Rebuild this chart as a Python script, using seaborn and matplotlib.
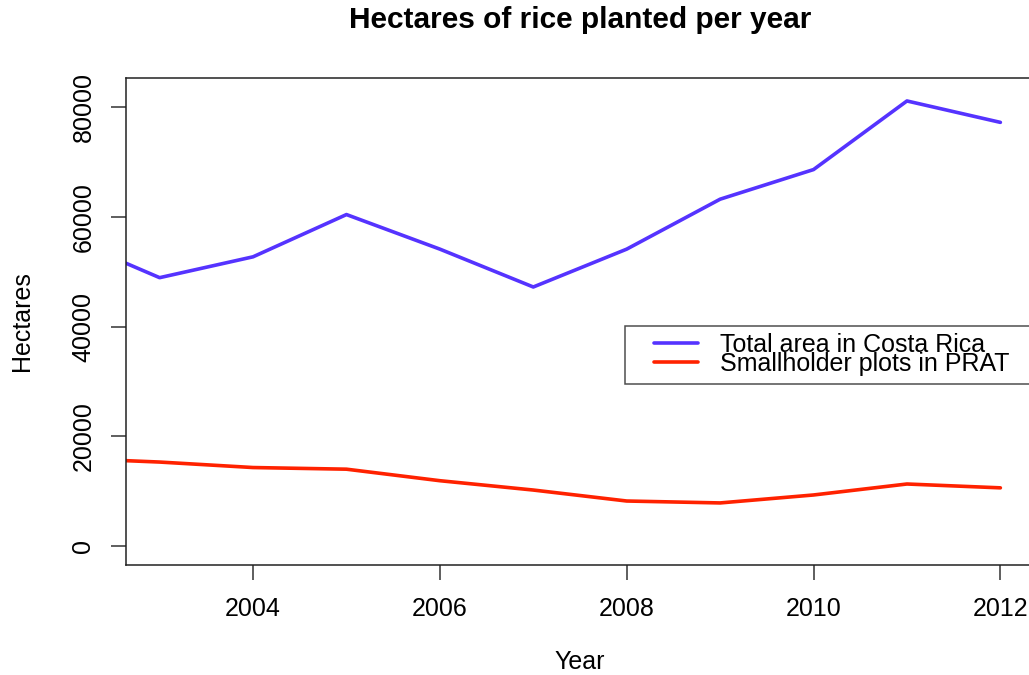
import numpy as np
import pandas as pd
import matplotlib
matplotlib.use("Agg")
import matplotlib.pyplot as plt
from matplotlib.legend_handler import HandlerLine2D
import seaborn as sns

years = [2002, 2003, 2004, 2005, 2006, 2007, 2008, 2009, 2010, 2011, 2012]
total_area = [56200, 48900, 52700, 60400, 54100, 47200, 54100, 63200, 68600, 81100, 77200]
smallholder = [16000, 15300, 14300, 14000, 11900, 10200, 8200, 7850, 9300, 11300, 10600]
series_names = ["Total area in Costa Rica", "Smallholder plots in PRAT"]
series_colors = ["#5533ff", "#ff2200"]
x_ticks = [2004, 2006, 2008, 2010, 2012]
y_ticks = [0, 20000, 40000, 60000, 80000]

df = pd.concat([
    pd.DataFrame({"Year": years, "Hectares": total_area, "series": series_names[0]}),
    pd.DataFrame({"Year": years, "Hectares": smallholder, "series": series_names[1]}),
])

sns.set_theme(style="white")
plt.rcParams["font.family"] = ["Liberation Sans", "DejaVu Sans"]
plt.rcParams["text.color"] = "black"
plt.rcParams["axes.labelcolor"] = "black"
plt.rcParams["xtick.color"] = "black"
plt.rcParams["ytick.color"] = "black"

W, H = 1029, 675
fig = plt.figure(figsize=(W / 100, H / 100), dpi=100)
ax = fig.add_axes([126 / W, (H - 565) / H, 908 / W, 487 / H])

sns.lineplot(data=df, x="Year", y="Hectares", hue="series",
             palette=dict(zip(series_names, series_colors)),
             linewidth=2.6, ax=ax, legend=False)

# R-style 4% padding around the 2003-2012 window
ax.set_xlim(2003 - 0.36, 2012 + 0.36)
ax.set_ylim(-3460, 85285)
ax.set_xticks(x_ticks)
ax.set_yticks(y_ticks)
ax.set_xticklabels([str(t) for t in x_ticks], fontsize=18)
ax.set_yticklabels([str(t) for t in y_ticks], fontsize=18, rotation=90, va="center")
ax.tick_params(axis="both", which="major", direction="out", length=11,
               width=1.1, color="#333333", bottom=True, left=True)
ax.tick_params(axis="x", pad=12)
ax.tick_params(axis="y", pad=11)
for s in ax.spines.values():
    s.set_color("#222222")
    s.set_linewidth(1.1)

ax.set_xlabel("Year", fontsize=18, labelpad=21)
ax.set_ylabel("Hectares", fontsize=18, labelpad=27)
fig.text(580 / W, 1 - 20 / H, "Hectares of rice planted per year",
         fontsize=21.5, fontweight="bold", ha="center", va="center")


class InsetLineHandler(HandlerLine2D):
    """Legend line that leaves some empty space on its left."""

    def __init__(self, inset_px=15.5, **kw):
        super().__init__(**kw)
        self.inset_px = inset_px

    def create_artists(self, legend, orig_handle, xdescent, ydescent,
                       width, height, fontsize, trans):
        artists = super().create_artists(legend, orig_handle, xdescent, ydescent,
                                         width, height, fontsize, trans)
        for a in artists:
            x = np.asarray(a.get_xdata(), dtype=float)
            if len(x) >= 2:
                a.set_xdata(np.linspace(x[0] + self.inset_px, x[-1], len(x)))
        return artists


# legend box runs from x=0.55 of the axes out to the right edge
leg_x0 = 0.5496
handles = [plt.Line2D([], [], color=c, linewidth=2.6) for c in series_colors]
leg = ax.legend(handles, series_names, loc="center",
                bbox_to_anchor=(leg_x0, 0.382, 1.0 - leg_x0, 0.1), mode="expand",
                borderaxespad=0, fontsize=18,
                frameon=True, fancybox=False, labelspacing=-0.2,
                handlelength=2.62, handletextpad=0.88, borderpad=0.3,
                handler_map={plt.Line2D: InsetLineHandler()})
leg.get_frame().set_edgecolor("#222222")
leg.get_frame().set_linewidth(1.1)

fig.savefig("out.png", dpi=100, facecolor="white")
